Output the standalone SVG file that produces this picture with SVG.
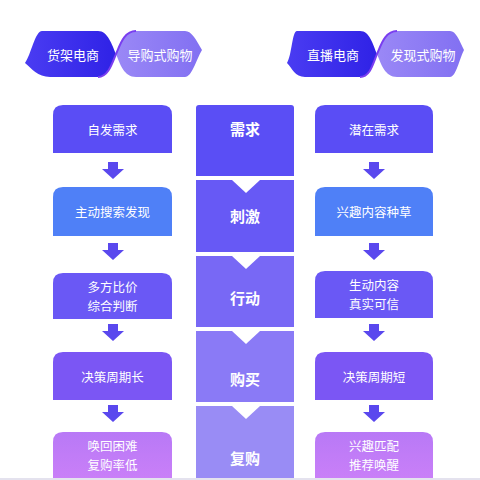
<svg xmlns="http://www.w3.org/2000/svg" width="480" height="480" viewBox="0 0 480 480">
<defs>
<linearGradient id="gDark" x1="0" y1="0" x2="1" y2="0"><stop offset="0" stop-color="#4a3cf2"/><stop offset="1" stop-color="#2f22e6"/></linearGradient>
<linearGradient id="gLight" x1="0" y1="0" x2="1" y2="0"><stop offset="0" stop-color="#9a88f6"/><stop offset="1" stop-color="#8270f2"/></linearGradient>
<linearGradient id="gPink" x1="0" y1="0" x2="0" y2="1"><stop offset="0" stop-color="#b879f6"/><stop offset="1" stop-color="#c97ff8"/></linearGradient>
</defs>
<style>
text{font-family:"Noto Sans CJK SC","Noto Sans",sans-serif;fill:#fff;text-anchor:middle;dominant-baseline:central}
.t{font-size:12.5px}
.h{font-size:13px}
.m{font-size:15px;font-weight:bold}
.arr{fill:#5a48ee}
.notch{fill:#fff}
</style>
<rect width="480" height="480" fill="#fff"/>
<g id="header-left">
<path d="M42,31 H98 C108,31 112,45 116,54 C112,64 108,77 98,77 H50 C38,77 31,68 25,63 C31,55 35,31 42,31 Z" fill="url(#gDark)"/>
<path d="M116,54 C120,45 124,31 136,31 H185 C192,31 196,40 202,50 C196,60 192,77 185,77 H136 C124,77 120,64 116,54 Z" fill="url(#gLight)"/>
<path d="M136,31 C124,31 120,45 116,54 C112,64 108,77 98,77" fill="none" stroke="#7a3ef0" stroke-width="2"/>
<text class="h" x="73" y="54">货架电商</text>
<text class="h" x="160" y="54">导购式购物</text>
</g>
<g id="header-right">
<path d="M297,31 H360 C370,31 373,45 377,54 C373,64 370,77 360,77 H305 C295,77 292,68 287,63 C292,55 292,31 297,31 Z" fill="url(#gDark)"/>
<path d="M377,54 C381,45 385,31 397,31 H450 C456,31 459,40 464,50 C459,60 456,77 450,77 H397 C385,77 381,64 377,54 Z" fill="url(#gLight)"/>
<path d="M397,31 C385,31 381,45 377,54 C373,64 370,77 360,77" fill="none" stroke="#7a3ef0" stroke-width="2"/>
<text class="h" x="333" y="54">直播电商</text>
<text class="h" x="423" y="54">发现式购物</text>
</g>
<g id="left-1"><path d="M53,153 V115 Q53,105 63,105 H162 Q172,105 172,115 V153 Z" fill="#5a4df5"/><text class="t" x="112.5" y="129">自发需求</text></g>
<g id="left-2"><path d="M53,236 V197 Q53,187 63,187 H162 Q172,187 172,197 V236 Z" fill="#4f80f7"/><text class="t" x="112.5" y="211">主动搜索发现</text></g>
<g id="left-3"><path d="M53,319 V283 Q53,273 63,273 H162 Q172,273 172,283 V319 Z" fill="#6a58f5"/><text class="t" x="112.5" y="286">多方比价</text><text class="t" x="112.5" y="305">综合判断</text></g>
<g id="left-4"><path d="M53,400 V362 Q53,352 63,352 H162 Q172,352 172,362 V400 Z" fill="#7b56f4"/><text class="t" x="112.5" y="376">决策周期长</text></g>
<g id="left-5"><path d="M53,478 V442 Q53,432 63,432 H162 Q172,432 172,442 V478 Z" fill="url(#gPink)"/><text class="t" x="112.5" y="445">唤回困难</text><text class="t" x="112.5" y="464">复购率低</text></g>
<g id="right-1"><path d="M315,153 V115 Q315,105 325,105 H423 Q433,105 433,115 V153 Z" fill="#5a4df5"/><text class="t" x="374" y="129">潜在需求</text></g>
<g id="right-2"><path d="M315,236 V197 Q315,187 325,187 H423 Q433,187 433,197 V236 Z" fill="#4f80f7"/><text class="t" x="374" y="211">兴趣内容种草</text></g>
<g id="right-3"><path d="M315,318 V281 Q315,271 325,271 H423 Q433,271 433,281 V318 Z" fill="#6a58f5"/><text class="t" x="374" y="284">生动内容</text><text class="t" x="374" y="303">真实可信</text></g>
<g id="right-4"><path d="M315,400 V362 Q315,352 325,352 H423 Q433,352 433,362 V400 Z" fill="#7b56f4"/><text class="t" x="374" y="376">决策周期短</text></g>
<g id="right-5"><path d="M315,478 V442 Q315,432 325,432 H423 Q433,432 433,442 V478 Z" fill="url(#gPink)"/><text class="t" x="374" y="445">兴趣匹配</text><text class="t" x="374" y="464">推荐唤醒</text></g>
<g id="mid-1"><path d="M196,176 V108 Q196,105 199,105 H291 Q294,105 294,108 V176 Z" fill="#5a4ef5"/><text class="m" x="245" y="128">需求</text></g>
<g id="mid-2"><rect x="196" y="180" width="98" height="72" fill="#6759f5"/><path class="notch" d="M232,180 H260 L246,193 Z"/><text class="m" x="245" y="215">刺激</text></g>
<g id="mid-3"><rect x="196" y="256" width="98" height="71" fill="#7868f5"/><path class="notch" d="M232,256 H260 L246,269 Z"/><text class="m" x="245" y="297">行动</text></g>
<g id="mid-4"><rect x="196" y="331" width="98" height="71" fill="#8a7af6"/><path class="notch" d="M232,331 H260 L246,344 Z"/><text class="m" x="245" y="378">购买</text></g>
<g id="mid-5"><rect x="196" y="406" width="98" height="72" fill="#998cf5"/><path class="notch" d="M232,406 H260 L246,419 Z"/><text class="m" x="245" y="457">复购</text></g>
<g id="connectors">
<path class="arr" d="M108,162 H118 V169 H124 L113,179 L102,169 H108 Z"/>
<path class="arr" d="M108,243 H118 V250 H124 L113,260 L102,250 H108 Z"/>
<path class="arr" d="M108,324 H118 V331 H124 L113,341 L102,331 H108 Z"/>
<path class="arr" d="M108,405 H118 V412 H124 L113,422 L102,412 H108 Z"/>
<path class="arr" d="M369,162 H379 V169 H385 L374,179 L363,169 H369 Z"/>
<path class="arr" d="M369,243 H379 V250 H385 L374,260 L363,250 H369 Z"/>
<path class="arr" d="M369,324 H379 V331 H385 L374,341 L363,331 H369 Z"/>
<path class="arr" d="M369,405 H379 V412 H385 L374,422 L363,412 H369 Z"/>
</g>
<rect x="0" y="478" width="480" height="2" fill="#e4e2ee"/>
</svg>
